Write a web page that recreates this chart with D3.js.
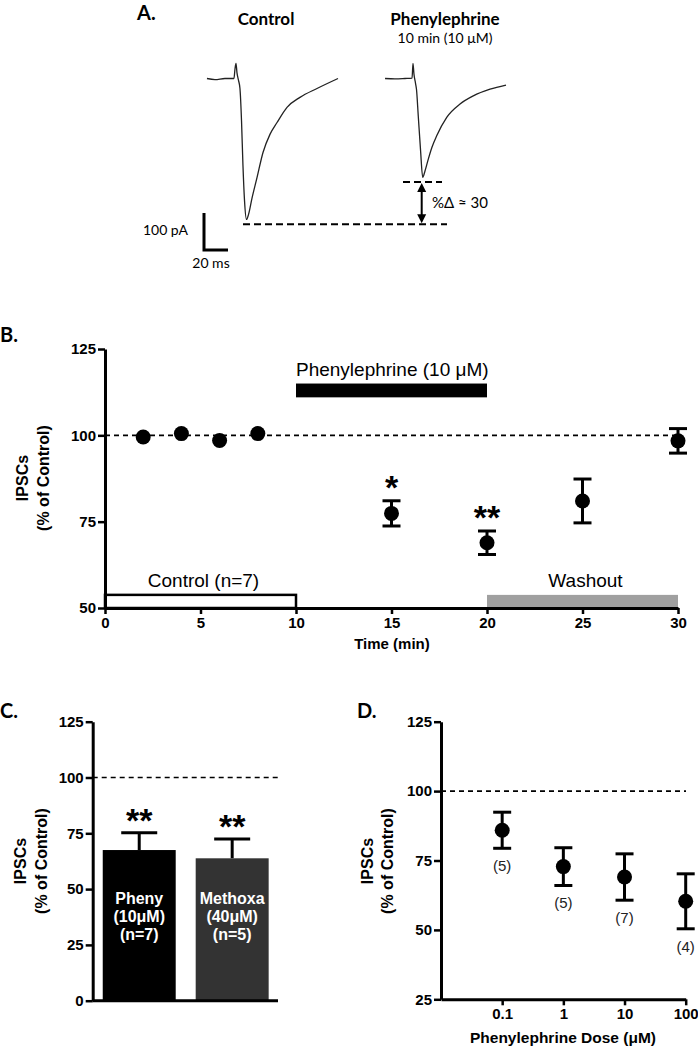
<!DOCTYPE html>
<html><head><meta charset="utf-8">
<script src="https://cdn.jsdelivr.net/npm/d3@7"></script>
<style>
body{margin:0;background:#fff}
svg{display:block}
</style></head><body>
<svg id="c" width="698" height="1050"></svg>
<script>
// ---------- DATA ----------
// Panel A: representative traces, [time (ms) relative to stimulus, current (pA)]
const traceControl = [[-24.2,0],[-17.5,-3],[-9.2,0],[-1.7,0],[-0.8,27],[0,41],[0.8,16],[2.1,-5],[3.3,-27],[4.6,-114],[5.8,-235],[7.1,-330],[8.75,-381],[10.4,-368],[13.3,-324],[17.5,-268],[22.5,-200],[28.3,-151],[34.2,-119],[42.5,-78],[53.3,-51],[67.5,-27],[85,0]];
const tracePheny = [[-23.3,0],[-15,-1],[-6.7,0],[-0.8,1],[0,41],[0.8,12],[2.1,-13],[2.9,-29],[4.4,-102],[6.25,-192],[8.1,-267],[10,-250],[12.75,-218],[15.8,-186],[19.75,-155],[28.1,-105],[39.2,-69],[50.25,-47],[64.2,-29],[77.5,-18]];
const scaleBar = {ms:20, pA:100};
const deltaLevels = {control:-394, pheny:-280};

// Panel B: time course
const timeMin = [2,4,6,8,15,20,25,30];
const timeMean = [99.5,100.5,98.5,100.5,77.4,68.9,81.0,98.4];
const timeSem  = [0,0,0,0,3.65,3.4,6.35,3.55];
const timeSig  = ["","","","","*","**","",""];
const timeXTicks = [0,5,10,15,20,25,30];
const timeYTicks = [50,75,100,125];
const periods = [
  {label:"Control (n=7)", start:0, end:10, type:"control"},
  {label:"Phenylephrine (10 \u03BCM)", start:10, end:20, type:"drug"},
  {label:"Washout", start:20, end:30, type:"wash"}
];

// Panel C: bars
const barCats = ["Pheny","Methoxa"];
const barMean = [67.5,63.8];
const barSem  = [7.8,8.6];
const barText = [["Pheny","(10\u03BCM)","(n=7)"],["Methoxa","(40\u03BCM)","(n=5)"]];
const barColors = ["#000000","#333333"];
const barYTicks = [0,25,50,75,100,125];

// Panel D: dose response
const doses = [0.1,1,10,100];
const doseMean = [85.9,72.8,69.05,60.3];
const doseSem  = [6.5,6.8,8.35,9.9];
const doseN    = ["(5)","(5)","(7)","(4)"];
const doseYTicks = [25,50,75,100,125];

// ---------- DRAW ----------
const svg = d3.select("#c");
const AR = "'Liberation Sans', Arial, sans-serif";
const CAL = "Lato, 'Open Sans', sans-serif";

function styleAxis(g){
  g.select(".domain").attr("stroke","#000").attr("stroke-width",3);
  g.selectAll(".tick line").attr("stroke","#000").attr("stroke-width",2.5);
  g.selectAll(".tick text").attr("font-family",AR).attr("font-weight","bold")
   .attr("font-size",15).attr("fill","#000");
}
function yLabel(x1,x2,yc){
  svg.append("text").attr("transform",`translate(${x1},${yc}) rotate(-90)`)
    .attr("text-anchor","middle").attr("font-family",AR).attr("font-weight","bold")
    .attr("font-size",16).text("IPSCs");
  svg.append("text").attr("transform",`translate(${x2},${yc}) rotate(-90)`)
    .attr("text-anchor","middle").attr("font-family",AR).attr("font-weight","bold")
    .attr("font-size",16).text("(% of Control)");
}
function panelLabel(t,x,y){
  svg.append("text").attr("x",x).attr("y",y).attr("font-family",CAL)
    .attr("font-weight","bold").attr("font-size",20).text(t);
}
function errBar(g,x,yTop,yBot,w,capBottom){
  g.append("line").attr("x1",x).attr("x2",x).attr("y1",yTop).attr("y2",yBot)
    .attr("stroke","#000").attr("stroke-width",3);
  g.append("line").attr("x1",x-w/2).attr("x2",x+w/2).attr("y1",yTop).attr("y2",yTop)
    .attr("stroke","#000").attr("stroke-width",3);
  if(capBottom) g.append("line").attr("x1",x-w/2).attr("x2",x+w/2).attr("y1",yBot).attr("y2",yBot)
    .attr("stroke","#000").attr("stroke-width",3);
}

// ===== Panel A =====
panelLabel("A.",137,20);
svg.append("text").attr("x",266).attr("y",25).attr("text-anchor","middle")
  .attr("font-family",CAL).attr("font-weight","bold").attr("font-size",17).text("Control");
svg.append("text").attr("x",445).attr("y",25).attr("text-anchor","middle")
  .attr("font-family",CAL).attr("font-weight","bold").attr("font-size",17).text("Phenylephrine");
svg.append("text").attr("x",445).attr("y",43).attr("text-anchor","middle")
  .attr("font-family",CAL).attr("font-size",14).text("10 min (10 \u03BCM)");

const msPx = d3.scaleLinear().domain([0,20]).range([0,24]);
const pAPx = d3.scaleLinear().domain([0,-100]).range([0,37]);
const baseY = 78.5;
function traceLine(x0){
  return d3.line().x(d=>x0+msPx(d[0])).y(d=>baseY+pAPx(d[1])).curve(d3.curveMonotoneX);
}
svg.append("path").datum(traceControl).attr("d",traceLine(236)).attr("fill","none")
  .attr("stroke","#222").attr("stroke-width",1.3);
svg.append("path").datum(tracePheny).attr("d",traceLine(413)).attr("fill","none")
  .attr("stroke","#222").attr("stroke-width",1.3);

// dashed levels
const yLow = baseY+pAPx(deltaLevels.control), yHigh = baseY+pAPx(deltaLevels.pheny);
svg.append("line").attr("x1",243).attr("x2",447).attr("y1",yLow).attr("y2",yLow)
  .attr("stroke","#000").attr("stroke-width",2).attr("stroke-dasharray","7,4");
svg.append("line").attr("x1",403).attr("x2",442).attr("y1",yHigh).attr("y2",yHigh)
  .attr("stroke","#000").attr("stroke-width",2).attr("stroke-dasharray","7,4");
// double arrow
const ax = 421.7;
svg.append("line").attr("x1",ax).attr("x2",ax).attr("y1",yHigh+7).attr("y2",yLow-7)
  .attr("stroke","#000").attr("stroke-width",2);
svg.append("path").attr("d",`M${ax},${yHigh+1} L${ax-4.5},${yHigh+10} L${ax+4.5},${yHigh+10} Z`).attr("fill","#000");
svg.append("path").attr("d",`M${ax},${yLow-1} L${ax-4.5},${yLow-10} L${ax+4.5},${yLow-10} Z`).attr("fill","#000");
svg.append("text").attr("x",432).attr("y",208).attr("font-family",CAL).attr("font-size",15)
  .text("%\u0394 \u2248 30");

// scale bar
const sbx = 204, sby = 250;
svg.append("path").attr("d",`M${sbx},${sby-pAPx(-scaleBar.pA)} L${sbx},${sby} L${sbx+msPx(scaleBar.ms)},${sby}`)
  .attr("fill","none").attr("stroke","#000").attr("stroke-width",3);
svg.append("text").attr("x",188).attr("y",235).attr("text-anchor","end")
  .attr("font-family",CAL).attr("font-size",14).text(scaleBar.pA+" pA");
svg.append("text").attr("x",211).attr("y",268).attr("text-anchor","middle")
  .attr("font-family",CAL).attr("font-size",14).text(scaleBar.ms+" ms");

// ===== Panel B =====
panelLabel("B.",0,342);
const xB = d3.scaleLinear().domain([0,30]).range([105,678]);
const yB = d3.scaleLinear().domain([50,125]).range([608,349]);
const gB = svg.append("g");
periods.forEach(p=>{
  if(p.type==="drug"){
    gB.append("rect").attr("x",xB(p.start)).attr("width",xB(p.end)-xB(p.start))
      .attr("y",yB(115)).attr("height",yB(111)-yB(115)).attr("fill","#000");
    gB.append("text").attr("x",xB(p.start)).attr("y",yB(117.3)).attr("font-family",AR)
      .attr("font-size",19).text(p.label);
  } else {
    gB.append("rect").attr("x",xB(p.start)).attr("width",xB(p.end)-xB(p.start))
      .attr("y",yB(53.8)).attr("height",yB(50)-yB(53.8))
      .attr("fill",p.type==="wash"?"#a0a0a0":"#fff")
      .attr("stroke",p.type==="wash"?"none":"#000").attr("stroke-width",2.5);
    gB.append("text").attr("x",(xB(p.start)+xB(p.end))/2+3).attr("y",587).attr("text-anchor","middle")
      .attr("font-family",AR).attr("font-size",19).text(p.label);
  }
});
gB.append("line").attr("x1",xB(0)).attr("x2",xB(30)).attr("y1",yB(100)).attr("y2",yB(100))
  .attr("stroke","#000").attr("stroke-width",1.6).attr("stroke-dasharray","5,4");
styleAxis(svg.append("g").attr("transform","translate(105,0)")
  .call(d3.axisLeft(yB).tickValues(timeYTicks).tickSize(7).tickSizeOuter(0).tickPadding(2)));
styleAxis(svg.append("g").attr("transform","translate(0,608)")
  .call(d3.axisBottom(xB).tickValues(timeXTicks).tickSize(6).tickSizeOuter(0).tickPadding(3)));
svg.append("text").attr("x",392).attr("y",649).attr("text-anchor","middle").attr("font-family",AR)
  .attr("font-weight","bold").attr("font-size",15).text("Time (min)");
yLabel(28,49,478);
timeMin.forEach((t,i)=>{
  if(timeSem[i]>0) errBar(gB,xB(t),yB(timeMean[i]+timeSem[i]),yB(timeMean[i]-timeSem[i]),18,true);
  gB.append("circle").attr("cx",xB(t)).attr("cy",yB(timeMean[i])).attr("r",7.5).attr("fill","#000");
  if(timeSig[i]) gB.append("text").attr("x",xB(t)).attr("y",yB(timeMean[i]+timeSem[i])-2)
    .attr("text-anchor","middle").attr("font-family",AR).attr("font-weight","bold")
    .attr("font-size",34).text(timeSig[i]);
});

// ===== Panel C =====
panelLabel("C.",0,718);
const xC = d3.scaleBand().domain(barCats).range([92.7,278.7]).paddingInner(0.215).paddingOuter(0.108);
const yC = d3.scaleLinear().domain([0,125]).range([1000.7,721.7]);
const gC = svg.append("g");
gC.append("line").attr("x1",92.7).attr("x2",278).attr("y1",yC(100)).attr("y2",yC(100))
  .attr("stroke","#000").attr("stroke-width",1.6).attr("stroke-dasharray","5,4");
barCats.forEach((c,i)=>{
  const cx = xC(c)+xC.bandwidth()/2;
  errBar(gC,cx,yC(barMean[i]+barSem[i]),yC(barMean[i]),36,false);
  gC.append("rect").attr("x",xC(c)).attr("width",xC.bandwidth()).attr("y",yC(barMean[i]))
    .attr("height",yC(0)-yC(barMean[i])).attr("fill",barColors[i]);
  barText[i].forEach((s,j)=>{
    gC.append("text").attr("x",cx).attr("y",904+j*18).attr("text-anchor","middle")
      .attr("font-family",AR).attr("font-weight","bold").attr("font-size",16).attr("fill","#fff").text(s);
  });
  gC.append("text").attr("x",cx).attr("y",yC(barMean[i]+barSem[i])-1).attr("text-anchor","middle")
    .attr("font-family",AR).attr("font-weight","bold").attr("font-size",34).text("**");
});
styleAxis(svg.append("g").attr("transform","translate(92.7,0)")
  .call(d3.axisLeft(yC).tickValues(barYTicks).tickSize(7).tickSizeOuter(0).tickPadding(2)));
svg.append("line").attr("x1",92.7).attr("x2",278).attr("y1",1000.7).attr("y2",1000.7)
  .attr("stroke","#000").attr("stroke-width",3);
yLabel(26,47,861);

// ===== Panel D =====
panelLabel("D.",357,718);
const xD = d3.scaleLog().domain([0.01,100]).range([441,685.7]);
const yD = d3.scaleLinear().domain([25,125]).range([999.3,721.7]);
const gD = svg.append("g");
gD.append("line").attr("x1",441).attr("x2",686).attr("y1",yD(100)).attr("y2",yD(100))
  .attr("stroke","#000").attr("stroke-width",1.6).attr("stroke-dasharray","5,4");
styleAxis(svg.append("g").attr("transform","translate(441,0)")
  .call(d3.axisLeft(yD).tickValues(doseYTicks).tickSize(7).tickSizeOuter(0).tickPadding(2)));
styleAxis(svg.append("g").attr("transform","translate(0,999.3)")
  .call(d3.axisBottom(xD).tickValues(doses).tickFormat(d=>String(d)).tickSize(6).tickSizeOuter(0).tickPadding(3)));
doses.forEach((d,i)=>{
  const lo = yD(doseMean[i]-doseSem[i]);
  errBar(gD,xD(d),yD(doseMean[i]+doseSem[i]),lo,18,true);
  gD.append("circle").attr("cx",xD(d)).attr("cy",yD(doseMean[i])).attr("r",7.5).attr("fill","#000");
  gD.append("text").attr("x",xD(d)).attr("y",lo+23).attr("text-anchor","middle")
    .attr("font-family",AR).attr("font-size",15).attr("fill","#222").text(doseN[i]);
});
svg.append("text").attr("x",563).attr("y",1043).attr("text-anchor","middle").attr("font-family",AR)
  .attr("font-weight","bold").attr("font-size",15.5).text("Phenylephrine Dose (\u03BCM)");
yLabel(373,393,861);
</script>
</body></html>
